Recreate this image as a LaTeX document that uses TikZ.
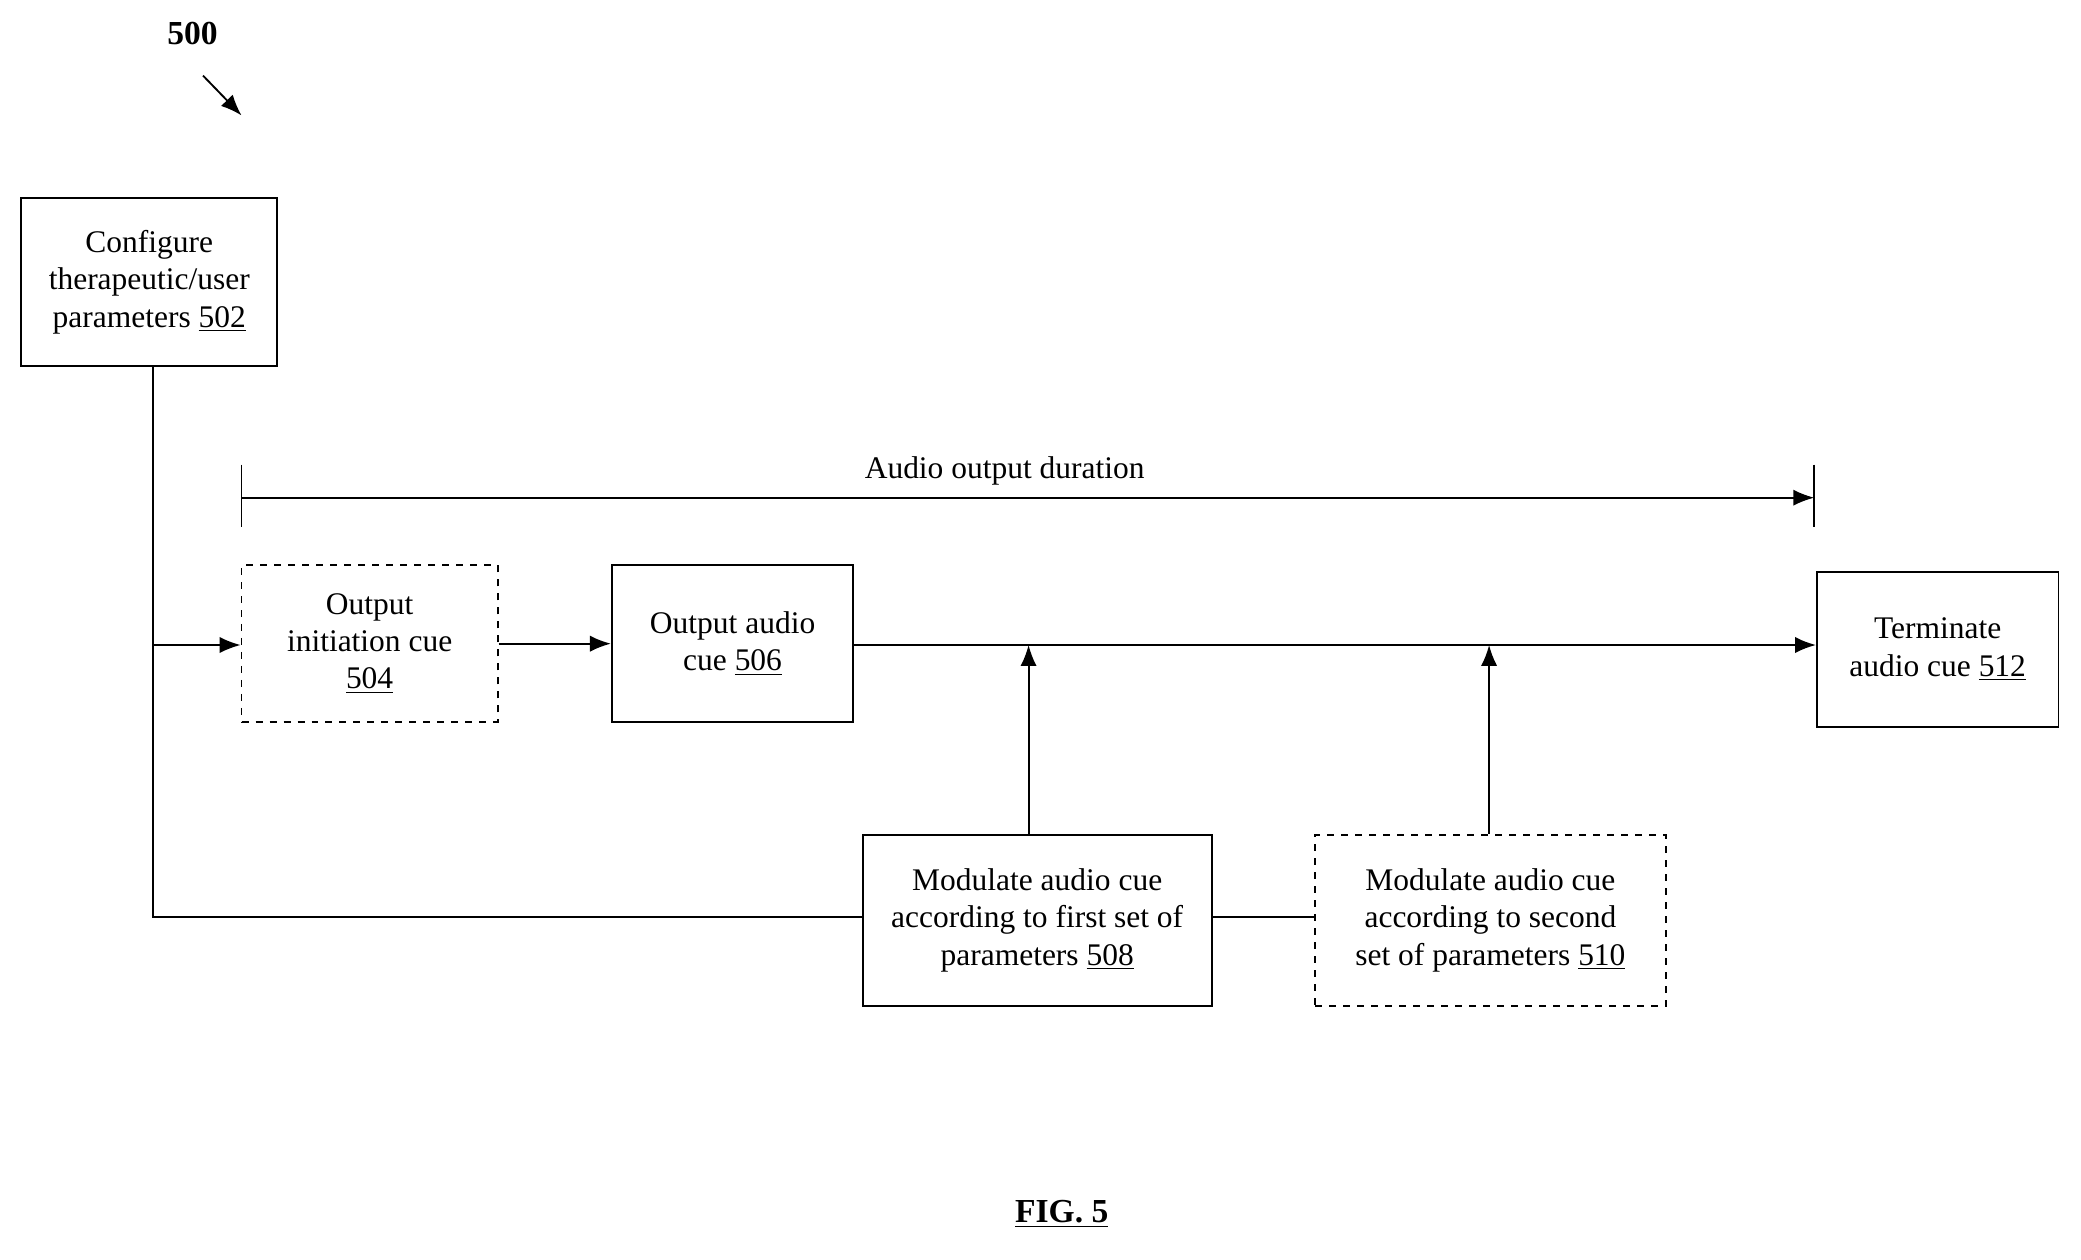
\documentclass[tikz,border=0pt]{standalone}
\usepackage{fontspec}
\setmainfont{Liberation Serif}
\usetikzlibrary{arrows.meta, positioning}
\begin{document}
\begin{tikzpicture}[
    x=0.02cm, y=-0.02cm,
    every node/.style={font=\fontsize{13.5}{16}\selectfont, align=center},
    box/.style={rectangle, draw, thick, inner sep=0pt},
    dbox/.style={box, dashed},
    arrow/.style={-{Latex[length=9pt,width=7pt]}, thick}
    ]
\useasboundingbox (0,0) rectangle (1568,949);

% Nodes
\node (fig) at (145,25) {\textbf{\Large 500}};
\node[box, minimum width=193*0.02cm, minimum height=127*0.02cm] (config) at (112.5,212.5)
    {Configure\\therapeutic/user\\parameters \underline{502}};
\node[dbox, minimum width=193*0.02cm, minimum height=118*0.02cm] (init) at (278.5,485)
    {Output\\initiation cue\\\underline{504}};
\node[box, minimum width=182*0.02cm, minimum height=118*0.02cm] (output) at (552,485)
    {Output audio\\cue \underline{506}};
\node[box, minimum width=182*0.02cm, minimum height=117*0.02cm] (term) at (1460,489.5)
    {Terminate\\audio cue \underline{512}};
\node[box, minimum width=263*0.02cm, minimum height=129*0.02cm] (first) at (781.5,693.5)
    {Modulate audio cue\\according to first set of\\parameters \underline{508}};
\node[dbox, minimum width=264*0.02cm, minimum height=129*0.02cm] (second) at (1123,693.5)
    {Modulate audio cue\\according to second\\set of parameters \underline{510}};
\node (dur) at (757,355) {Audio output duration};
\node (cap) at (800,915) {\textbf{\Large\underline{FIG. 5}}};

\coordinate (tickL) at (182,375);
\coordinate (tickR) at (1367,375);
\coordinate (split) at (115,486);
\coordinate (corner) at (115,691);
\coordinate (tapA) at (775,486);
\coordinate (tapB) at (1122,486);

% Arrows
\draw[arrow] (153,57) -- (182,87);
\draw[thick] (182,350) -- (182,397);
\draw[thick] (1367,350) -- (1367,397);
\draw[arrow] (tickL) -- (tickR);
\draw[thick] (config.south -| split) -- (corner) -- (first.west |- corner);
\draw[thick] (first.east |- corner) -- (second.west |- corner);
\draw[arrow] (split) -- (init.west |- split);
\draw[arrow] (init) -- (output);
\draw[arrow] (output.east |- split) -- (term.west |- split);
\draw[arrow] (first.north -| tapA) -- (tapA);
\draw[arrow] (second.north -| tapB) -- (tapB);

\end{tikzpicture}
\end{document}
